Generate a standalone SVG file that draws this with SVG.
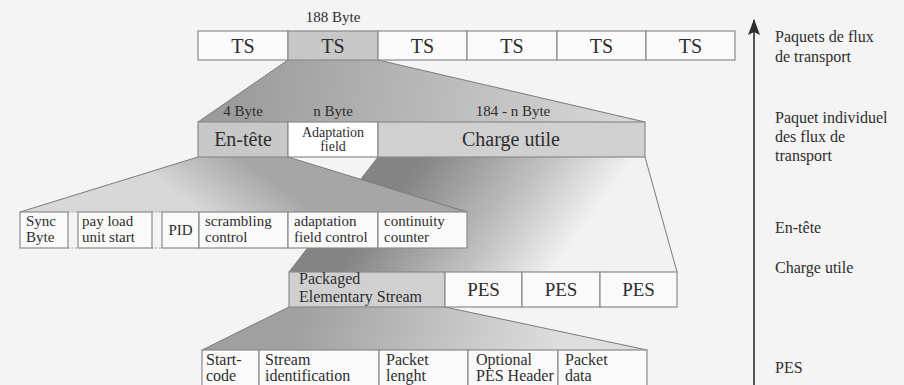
<svg xmlns="http://www.w3.org/2000/svg" width="904" height="385" viewBox="0 0 904 385" font-family="'Liberation Serif', 'DejaVu Serif', serif">
<defs>
<style>
.bx{fill:#fafafa;stroke:#8a8a8a;stroke-width:1.2}
.gr{fill:#c8c8c8;stroke:#8a8a8a;stroke-width:1.2}
.gl{fill:#d0d0d0;stroke:#8a8a8a;stroke-width:1.2}
.wh{fill:#ffffff;stroke:#8a8a8a;stroke-width:1.2}
.edge{fill:none;stroke:#7a7a7a;stroke-width:1}
.dot{fill:none;stroke:#8a8a8a;stroke-width:1.2;stroke-dasharray:1.5 2}
.tx{font-family:'Liberation Serif','DejaVu Serif',serif;fill:#2e2e2e}
.t14{font-size:14px}
.t15{font-size:15px}
.t16{font-size:16px}
.t19{font-size:19px}
.t20{font-size:20px}
.c{text-anchor:middle}
</style>
<linearGradient id="gTS" gradientUnits="userSpaceOnUse" x1="240" y1="70" x2="620" y2="120">
<stop offset="0" stop-color="#9c9c9c"/>
<stop offset="1" stop-color="#d6d6d6"/>
</linearGradient>
<linearGradient id="gHd" gradientUnits="userSpaceOnUse" x1="240" y1="157" x2="200" y2="212">
<stop offset="0" stop-color="#a6a6a6"/>
<stop offset="1" stop-color="#d8d8d8"/>
</linearGradient>
<linearGradient id="gCu" gradientUnits="userSpaceOnUse" x1="420" y1="160" x2="560" y2="262">
<stop offset="0" stop-color="#848484"/>
<stop offset="0.6" stop-color="#c2c2c2"/>
<stop offset="1" stop-color="#f2f2f2"/>
</linearGradient>
<linearGradient id="gPes" gradientUnits="userSpaceOnUse" x1="300" y1="307" x2="560" y2="350">
<stop offset="0" stop-color="#a0a0a0"/>
<stop offset="1" stop-color="#dedede"/>
</linearGradient>
<marker id="ah" viewBox="0 0 16 12" refX="15" refY="6" markerWidth="16" markerHeight="12" markerUnits="userSpaceOnUse" orient="auto">
<path d="M16 6 L0 12 L3 6 L0 0 Z" fill="#2e2e2e"/>
</marker>
</defs>
<rect x="0" y="0" width="904" height="385" fill="#f4f4f4"/>

<g id="connectors">
<polygon points="378,157 645,157 677,272 289,272" fill="url(#gCu)"/>
<polyline class="edge" points="378,157 289,272"/>
<polyline class="edge" points="645,157 677,272"/>
<polygon points="198,157 288,157 467,212 20,212" fill="url(#gHd)"/>
<polyline class="edge" points="198,157 20,212"/>
<polyline class="edge" points="288,157 467,212"/>
<polygon points="288,60 378,60 645,122 198,122" fill="url(#gTS)"/>
<polyline class="edge" points="288,60 198,122"/>
<polyline class="edge" points="378,60 645,122"/>
<polygon points="289,307 445,307 647,350 202,350" fill="url(#gPes)"/>
<polyline class="edge" points="289,307 202,350"/>
<polyline class="edge" points="445,307 647,350"/>
<line x1="754" y1="385" x2="754" y2="20" stroke="#2e2e2e" stroke-width="1.6" marker-end="url(#ah)"/>
</g>

<g id="ts-row">
<text class="tx t15 c" x="333" y="22">188 Byte</text>
<rect class="bx" x="198" y="31" width="90" height="29"/>
<rect class="gr" x="288" y="31" width="90" height="29"/>
<rect class="bx" x="378" y="31" width="89" height="29"/>
<rect class="bx" x="467" y="31" width="90" height="29"/>
<rect class="bx" x="557" y="31" width="89" height="29"/>
<rect class="bx" x="646" y="31" width="89" height="29"/>
<text class="tx t20 c" x="243" y="53">TS</text>
<text class="tx t20 c" x="333" y="53">TS</text>
<text class="tx t20 c" x="422.5" y="53">TS</text>
<text class="tx t20 c" x="512" y="53">TS</text>
<text class="tx t20 c" x="601.5" y="53">TS</text>
<text class="tx t20 c" x="690.5" y="53">TS</text>
</g>

<g id="packet-row">
<text class="tx t15 c" x="243" y="116">4 Byte</text>
<text class="tx t15 c" x="333" y="116">n Byte</text>
<text class="tx t15 c" x="513" y="116">184 - n Byte</text>
<rect class="gr" x="198" y="122" width="90" height="35"/>
<rect class="wh" x="288" y="122" width="90" height="35"/>
<rect class="gl" x="378" y="122" width="267" height="35"/>
<text class="tx t20 c" x="243" y="146">En-tête</text>
<text class="tx t14 c" x="333" y="137">Adaptation</text>
<text class="tx t14 c" x="333" y="151">field</text>
<text class="tx t20 c" x="511" y="146">Charge utile</text>
</g>

<g id="header-row">
<rect class="bx" x="20" y="212" width="48" height="36"/>
<rect class="bx" x="78" y="212" width="74" height="36"/>
<rect class="bx" x="162" y="212" width="37" height="36"/>
<rect class="bx" x="199" y="212" width="89" height="36"/>
<rect class="bx" x="288" y="212" width="90" height="36"/>
<rect class="bx" x="378" y="212" width="89" height="36"/>
<line class="dot" x1="68" y1="212" x2="78" y2="212"/>
<line class="dot" x1="68" y1="248" x2="78" y2="248"/>
<line class="dot" x1="152" y1="212" x2="162" y2="212"/>
<line class="dot" x1="152" y1="248" x2="162" y2="248"/>
<text class="tx t15" x="26" y="226">Sync</text>
<text class="tx t15" x="26" y="242">Byte</text>
<text class="tx t15" x="82" y="226">pay load</text>
<text class="tx t15" x="82" y="242">unit start</text>
<text class="tx t15 c" x="180.5" y="235">PID</text>
<text class="tx t15" x="205" y="226">scrambling</text>
<text class="tx t15" x="205" y="242">control</text>
<text class="tx t15" x="294" y="226">adaptation</text>
<text class="tx t15" x="294" y="242">field control</text>
<text class="tx t15" x="384" y="226">continuity</text>
<text class="tx t15" x="384" y="242">counter</text>
</g>

<g id="pes-row">
<rect class="gl" x="289" y="272" width="156" height="35"/>
<rect class="bx" x="445" y="272" width="77" height="35"/>
<rect class="bx" x="522" y="272" width="78" height="35"/>
<rect class="bx" x="600" y="272" width="77" height="35"/>
<text class="tx t16" x="299" y="284">Packaged</text>
<text class="tx t16" x="299" y="302">Elementary Stream</text>
<text class="tx t19 c" x="483.5" y="296">PES</text>
<text class="tx t19 c" x="561" y="296">PES</text>
<text class="tx t19 c" x="638.5" y="296">PES</text>
</g>

<g id="pes-detail-row">
<rect class="bx" x="202" y="350" width="57" height="40"/>
<rect class="bx" x="259" y="350" width="120" height="40"/>
<rect class="bx" x="379" y="350" width="89" height="40"/>
<rect class="bx" x="468" y="350" width="90" height="40"/>
<rect class="bx" x="558" y="350" width="89" height="40"/>
<text class="tx t16" x="206" y="365">Start-</text>
<text class="tx t16" x="206" y="381">code</text>
<text class="tx t16" x="265" y="365">Stream</text>
<text class="tx t16" x="265" y="381">identification</text>
<text class="tx t16" x="386" y="365">Packet</text>
<text class="tx t16" x="386" y="381">lenght</text>
<text class="tx t16" x="476" y="365">Optional</text>
<text class="tx t16" x="476" y="381">PES Header</text>
<text class="tx t16" x="565" y="365">Packet</text>
<text class="tx t16" x="565" y="381">data</text>
</g>

<g id="labels">
<text class="tx t16" x="775" y="42">Paquets de flux</text>
<text class="tx t16" x="775" y="62">de transport</text>
<text class="tx t16" x="775" y="123">Paquet individuel</text>
<text class="tx t16" x="775" y="142">des flux de</text>
<text class="tx t16" x="775" y="161">transport</text>
<text class="tx t16" x="775" y="233">En-tête</text>
<text class="tx t16" x="775" y="273">Charge utile</text>
<text class="tx t16" x="775" y="373">PES</text>
</g>
</svg>
